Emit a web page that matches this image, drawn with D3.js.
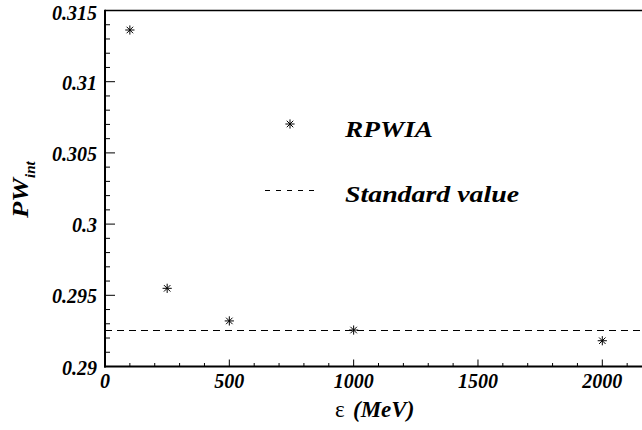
<!DOCTYPE html>
<html>
<head>
<meta charset="utf-8">
<script src="https://cdn.jsdelivr.net/npm/d3@7"></script>
<style>
  body { margin: 0; background: #fff; }
  svg { display: block; }
</style>
</head>
<body>
<svg id="chart" width="642" height="430"></svg>
<script>
// RPWIA results
const energies = [100, 250, 500, 1000, 2000];      // MeV
const pwInt = [0.31363, 0.29549, 0.29320, 0.29256, 0.29181];
const standardValue = 0.29256;

const xTicks = [0, 500, 1000, 1500, 2000];
const yTicks = [0.29, 0.295, 0.3, 0.305, 0.31, 0.315];
const yTickLabels = ['0.29', '0.295', '0.3', '0.305', '0.31', '0.315'];

const W = 642, H = 430;
const margin = { left: 105, top: 10.5, bottom: 366.5 };
const FONT = '"Liberation Serif"';

const svg = d3.select('#chart');

// serif bold italic text, like the ROOT font
const label = (sel, size) => sel
  .style('font-family', FONT).style('font-weight', 'bold').style('font-style', 'italic')
  .style('font-size', size + 'px').attr('fill', '#000');

const x = d3.scaleLinear().domain([0, 2200]).range([margin.left, margin.left + 2200 * 0.24865]);
const y = d3.scaleLinear().domain([0.29, 0.315]).range([margin.bottom, margin.top]);

// Minor ticks
const xMinor = d3.range(0, 2201, 100);
const yMinor = d3.range(0, 26).map(i => 0.29 + i * 0.001);

const g = svg.append('g');

// y ticks (inward)
g.selectAll('line.ymin').data(yMinor).enter().append('line')
  .attr('x1', margin.left).attr('x2', (d, i) => margin.left + (i % 5 === 0 ? 10 : 5))
  .attr('y1', d => y(d)).attr('y2', d => y(d))
  .attr('stroke', '#000').attr('stroke-width', 1);

// x ticks (inward)
g.selectAll('line.xmin').data(xMinor).enter().append('line')
  .attr('x1', d => x(d)).attr('x2', d => x(d))
  .attr('y1', margin.bottom).attr('y2', (d, i) => margin.bottom - (i % 5 === 0 ? 7 : 3.5))
  .attr('stroke', '#000').attr('stroke-width', 1);

// frame
g.append('line').attr('x1', margin.left).attr('x2', W + 5).attr('y1', margin.top).attr('y2', margin.top)
  .attr('stroke', '#000').attr('stroke-width', 1.5);
g.append('line').attr('x1', margin.left).attr('x2', margin.left).attr('y1', margin.top - 0.75).attr('y2', margin.bottom + 1)
  .attr('stroke', '#000').attr('stroke-width', 2);
g.append('line').attr('x1', margin.left - 1).attr('x2', W + 5).attr('y1', margin.bottom).attr('y2', margin.bottom)
  .attr('stroke', '#000').attr('stroke-width', 2);

// tick labels
g.selectAll('text.yl').data(yTicks).enter().append('text')
  .call(label, 20)
  .attr('x', 97).attr('y', d => Math.max(y(d) + 8, 19.5))
  .attr('text-anchor', 'end')
  .text((d, i) => yTickLabels[i]);

g.selectAll('text.xl').data(xTicks).enter().append('text')
  .call(label, 20)
  .attr('x', d => x(d)).attr('y', 388)
  .attr('text-anchor', 'middle')
  .text(d => d);

// standard value line
g.append('line')
  .attr('x1', x(0)).attr('x2', W + 5)
  .attr('y1', Math.round(y(standardValue)) + 0.5).attr('y2', Math.round(y(standardValue)) + 0.5)
  .attr('stroke', '#000').attr('stroke-width', 1).attr('stroke-dasharray', '7,5');

// asterisk marker
function star(sel, s) {
  const a = s * 0.707;
  [[-s, 0, s, 0], [0, -s, 0, s], [-a, -a, a, a], [-a, a, a, -a]].forEach(c => {
    sel.append('line').attr('x1', c[0]).attr('y1', c[1]).attr('x2', c[2]).attr('y2', c[3])
      .attr('stroke', '#000').attr('stroke-width', 1);
  });
}

const pts = energies.map((e, i) => ({ e, v: pwInt[i] }));
g.selectAll('g.pt').data(pts).enter().append('g')
  .attr('transform', d => `translate(${x(d.e)},${y(d.v)})`)
  .each(function () { star(d3.select(this), 4.6); });

// legend
const lg = svg.append('g');
star(lg.append('g').attr('transform', 'translate(290,124)'), 4.6);
lg.append('text').call(label, 23).attr('x', 345).attr('y', 136.5)
  .attr('textLength', 88).attr('lengthAdjust', 'spacingAndGlyphs').text('RPWIA');
lg.append('line').attr('x1', 265).attr('x2', 314).attr('y1', 190.5).attr('y2', 190.5)
  .attr('stroke', '#000').attr('stroke-width', 1).attr('stroke-dasharray', '5,6');
lg.append('text').call(label, 23).attr('x', 345).attr('y', 202)
  .attr('textLength', 174).attr('lengthAdjust', 'spacingAndGlyphs').text('Standard value');

// axis titles
svg.append('text').attr('x', 335).attr('y', 417)
  .style('font-family', FONT).style('font-size', '23px').attr('fill', '#000').text('ε');
svg.append('text').call(label, 23).attr('x', 353).attr('y', 417).text('(MeV)');

const yt = svg.append('text').call(label, 23)
  .attr('transform', 'translate(28,218) rotate(-90)');
yt.append('tspan').attr('textLength', 40).attr('lengthAdjust', 'spacingAndGlyphs').text('PW');
yt.append('tspan').attr('dy', 7).style('font-size', '15px').text('int');
</script>
</body>
</html>
